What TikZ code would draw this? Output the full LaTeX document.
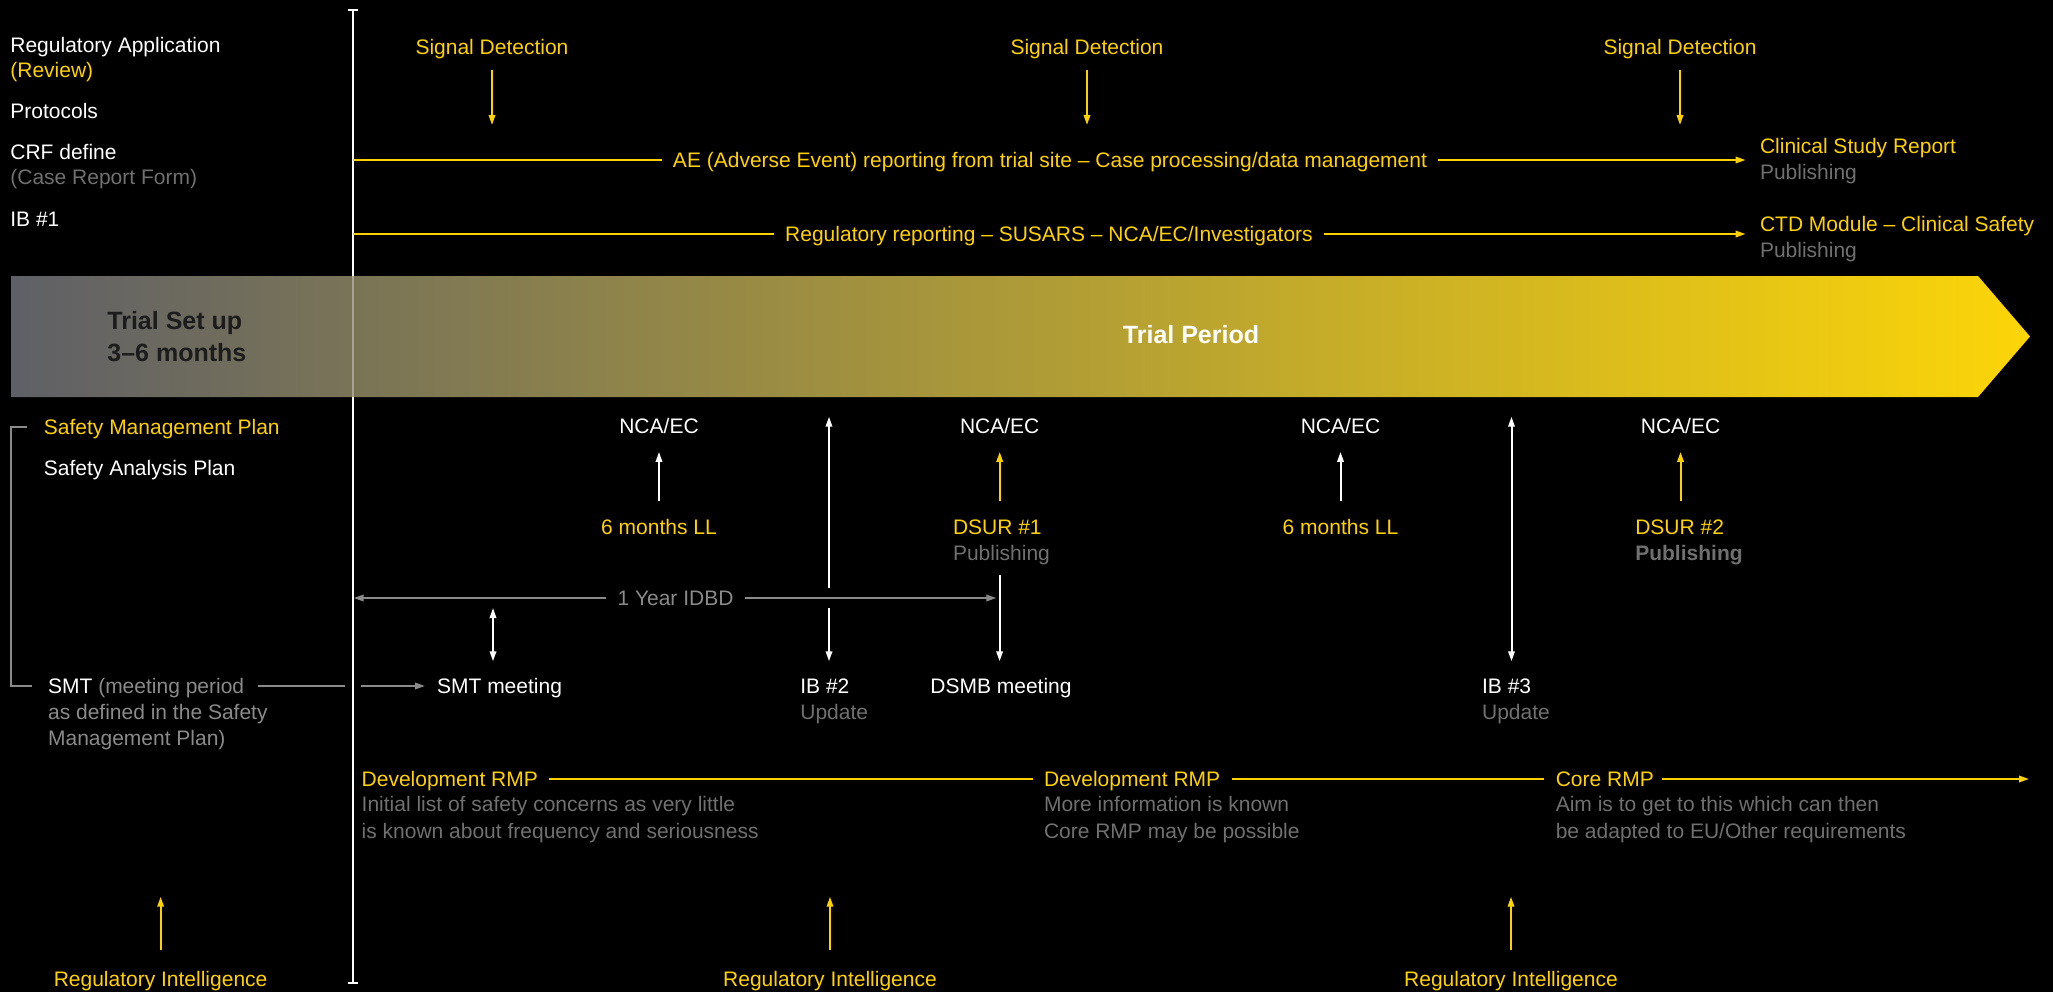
\documentclass[tikz,border=0pt]{standalone}
\usepackage{fontspec}
\setmainfont{Liberation Sans}
\usetikzlibrary{arrows.meta}
\definecolor{yel}{RGB}{255,209,0}
\definecolor{gtx}{RGB}{112,112,112}
\definecolor{glt}{RGB}{138,138,138}
\definecolor{bandL}{RGB}{95,96,103}
\definecolor{bandM}{RGB}{172,155,84}
\definecolor{bandR}{RGB}{252,213,8}
\definecolor{darktx}{RGB}{28,28,28}
\tikzset{
  txt/.style={inner sep=0pt, text height=7.5pt, text depth=0pt, font=\fontsize{10.5}{13}\selectfont, text=white},
  ytxt/.style={txt, text=yel},
  gtxt/.style={txt, text=gtx},
  ltxt/.style={txt, text=glt},
  gaptxt/.style={inner xsep=5.5pt},
  bandtxt/.style={inner sep=0pt, font=\fontsize{12.5}{16}\selectfont\bfseries},
  yline/.style={draw=yel, line width=1pt},
  wline/.style={draw=white, line width=1pt},
  gline/.style={draw=glt, line width=1pt},
}
\begin{document}
\begin{tikzpicture}[x=0.5pt,y=-0.5pt, >={Triangle[length=5pt,width=3.2pt]}]
\useasboundingbox (0,0) rectangle (2053,992);
\fill[black] (0,0) rectangle (2053,992);
% band
\shade[left color=bandL, middle color=bandM, right color=bandR] (11,276) -- (1978,276) -- (2030,336.5) -- (1978,397) -- (11,397) -- cycle;
\node[bandtxt, text=darktx, anchor=base west] (setup1) at (107,329) {Trial Set up};
\node[bandtxt, text=darktx, anchor=base west] (setup2) at (107,361) {3–6 months};
\node[bandtxt, text=white, anchor=base] (period) at (1191,343) {Trial Period};
% timeline
\coordinate (vtop) at (352.5,9);
\coordinate (vbot) at (352.5,984);
\coordinate (vb1) at (352.5,276);
\coordinate (vb2) at (352.5,397);
\draw[wline, {Bar[width=5pt]}-] (vtop) -- (vb1);
\draw[white, opacity=0.35, line width=1pt] (vb1) -- (vb2);
\draw[wline, -{Bar[width=5pt]}] (vb2) -- (vbot);
% left column
\node[txt, anchor=west] (regapp) at (10,45) {Regulatory Application};
\node[ytxt, anchor=west] (review) at (10,70) {(Review)};
\node[txt, anchor=west] (protocols) at (10,111) {Protocols};
\node[txt, anchor=west] (crf) at (10,152) {CRF define};
\node[gtxt, anchor=west] (crfsub) at (10,177) {(Case Report Form)};
\node[txt, anchor=west] (ib1) at (10,219) {IB \#1};
% signal detection
\foreach \i/\x in {1/492,2/1087,3/1680}{
  \node[ytxt] (sd\i) at (\x,47) {Signal Detection};
  \coordinate (sde\i) at (\x,125);
  \draw[yline,->,shorten <=7.75pt] (sd\i.south) -- (sde\i);
}
% AE line
\coordinate (aeL) at (352.5,160);
\node[ytxt, gaptxt] (ae) at (1050,160) {AE (Adverse Event) reporting from trial site – Case processing/data management};
\node[ytxt, anchor=west] (csr) at (1759.6,146) {Clinical Study Report};
\node[gtxt, anchor=west] (csrpub) at (1759.6,172) {Publishing};
\draw[yline] (aeL) -- (ae.west);
\draw[yline,->,shorten >=7pt] (ae.east) -- (ae.east -| csr.west);
% regulatory reporting
\coordinate (rrL) at (352.5,234);
\node[ytxt, gaptxt] (rr) at (1049,234) {Regulatory reporting – SUSARS – NCA/EC/Investigators};
\node[ytxt, anchor=west] (ctd) at (1759.6,224) {CTD Module – Clinical Safety};
\node[gtxt, anchor=west] (ctdpub) at (1759.6,250) {Publishing};
\draw[yline] (rrL) -- (rr.west);
\draw[yline,->,shorten >=7pt] (rr.east) -- (rr.east -| ctd.west);
% below band left
\node[ytxt, anchor=west] (smp) at (43.5,427) {Safety Management Plan};
\node[txt, anchor=west] (sap) at (43.5,468) {Safety Analysis Plan};
\node[ltxt, anchor=west] (smt) at (47.7,686) {\textcolor{white}{SMT} (meeting period};
\node[ltxt, anchor=west] (smt2) at (47.7,712) {as defined in the Safety};
\node[ltxt, anchor=west] (smt3) at (47.7,738) {Management Plan)};
\draw[gline, shorten <=8.25pt, shorten >=8pt] (smp.west) -| (10.5,560) |- (smt.west);
\coordinate (smtc1) at (345,686);
\coordinate (smtc2) at (361,686);
\node[txt, anchor=west] (smtm) at (436.7,686) {SMT meeting};
\draw[gline, shorten <=6.5pt] (smt.east) -- (smtc1);
\draw[gline,->, shorten >=5.85pt] (smtc2) -- (smtm.west);
% NCA/EC
\foreach \i/\x in {1/659,2/999.7,3/1340.5,4/1680.5}{
  \node[txt] (nca\i) at (\x,426) {NCA/EC};
}
\node[ytxt] (ll1) at (659,526.7) {6 months LL};
\node[ytxt] (ll2) at (1340.5,526.7) {6 months LL};
\node[ytxt, anchor=west] (dsur1) at (952.6,526.7) {DSUR \#1};
\node[gtxt, anchor=west] (dsur1pub) at (952.6,553) {Publishing};
\node[ytxt, anchor=west] (dsur2) at (1634.9,526.7) {DSUR \#2};
\node[gtxt, anchor=west, font=\fontsize{10.5}{13}\selectfont\bfseries] (dsur2pub) at (1634.9,553) {Publishing};
\draw[wline,->,shorten <=8.75pt, shorten >=9pt] (ll1.north) -- (nca1.south);
\draw[wline,->,shorten <=8.75pt, shorten >=9pt] (ll2.north) -- (nca3.south);
\draw[yline,->,shorten <=8.75pt, shorten >=9pt] (nca2.south |- dsur1.north) -- (nca2.south);
\draw[yline,->,shorten <=8.75pt, shorten >=9pt] (nca4.south |- dsur2.north) -- (nca4.south);
% meetings / IB
\node[txt, anchor=west] (ib2) at (800,686) {IB \#2};
\node[gtxt, anchor=west] (ib2up) at (800,712) {Update};
\node[txt, anchor=west] (dsmb) at (930,686) {DSMB meeting};
\node[txt, anchor=west] (ib3) at (1481.7,686) {IB \#3};
\node[gtxt, anchor=west] (ib3up) at (1481.7,712) {Update};
\coordinate (ib2a) at (829,416.7);
\coordinate (ib2b) at (829,588);
\coordinate (ib2c) at (829,608);
\draw[wline,<-] (ib2a) -- (ib2b);
\draw[wline,->,shorten >=8.4pt] (ib2c) -- (ib2c |- ib2.north);
\coordinate (ib3a) at (1511.5,416.7);
\draw[wline,<->,shorten >=8.4pt] (ib3a) -- (ib3a |- ib3.north);
\coordinate (dsmba) at (999.6,575);
\draw[wline,->,shorten >=8.4pt] (dsmba) -- (dsmba |- dsmb.north);
\coordinate (smta) at (493,608);
\draw[wline,<->,shorten >=8.4pt] (smta) -- (smta |- smtm.north);
% IDBD
\coordinate (idbdL) at (353.6,598);
\coordinate (idbdR) at (996.4,598);
\node[ltxt, gaptxt] (idbd) at (675.5,598) {1 Year IDBD};
\draw[gline,->] (idbd.west) -- (idbdL);
\draw[gline,->] (idbd.east) -- (idbdR);
% RMP
\node[ytxt, anchor=west] (rmp1) at (361.3,779) {Development RMP};
\node[gtxt, anchor=west] (rmp1a) at (361.3,804.3) {Initial list of safety concerns as very little};
\node[gtxt, anchor=west] (rmp1b) at (361.3,830.7) {is known about frequency and seriousness};
\node[ytxt, anchor=west] (rmp2) at (1043.6,779) {Development RMP};
\node[gtxt, anchor=west] (rmp2a) at (1043.6,804.3) {More information is known};
\node[gtxt, anchor=west] (rmp2b) at (1043.6,830.7) {Core RMP may be possible};
\node[ytxt, anchor=west] (core) at (1555.4,779) {Core RMP};
\node[gtxt, anchor=west] (corea) at (1555.4,804.3) {Aim is to get to this which can then};
\node[gtxt, anchor=west] (coreb) at (1555.4,830.7) {be adapted to EU/Other requirements};
\coordinate (rmpend) at (2029,779);
\draw[yline, shorten <=5.5pt, shorten >=5.5pt] (rmp1.east) -- (rmp2.west);
\draw[yline, shorten <=5.5pt, shorten >=5.5pt] (rmp2.east) -- (core.west);
\draw[yline,->, shorten <=4pt] (core.east) -- (rmpend);
% regulatory intelligence
\foreach \i/\x in {1/160.6,2/830,3/1511}{
  \node[ytxt] (ri\i) at (\x,979.3) {Regulatory Intelligence};
  \coordinate (rie\i) at (\x,896.7);
  \draw[yline,->,shorten <=10.5pt] (ri\i.north) -- (rie\i);
}
\end{tikzpicture}
\end{document}
